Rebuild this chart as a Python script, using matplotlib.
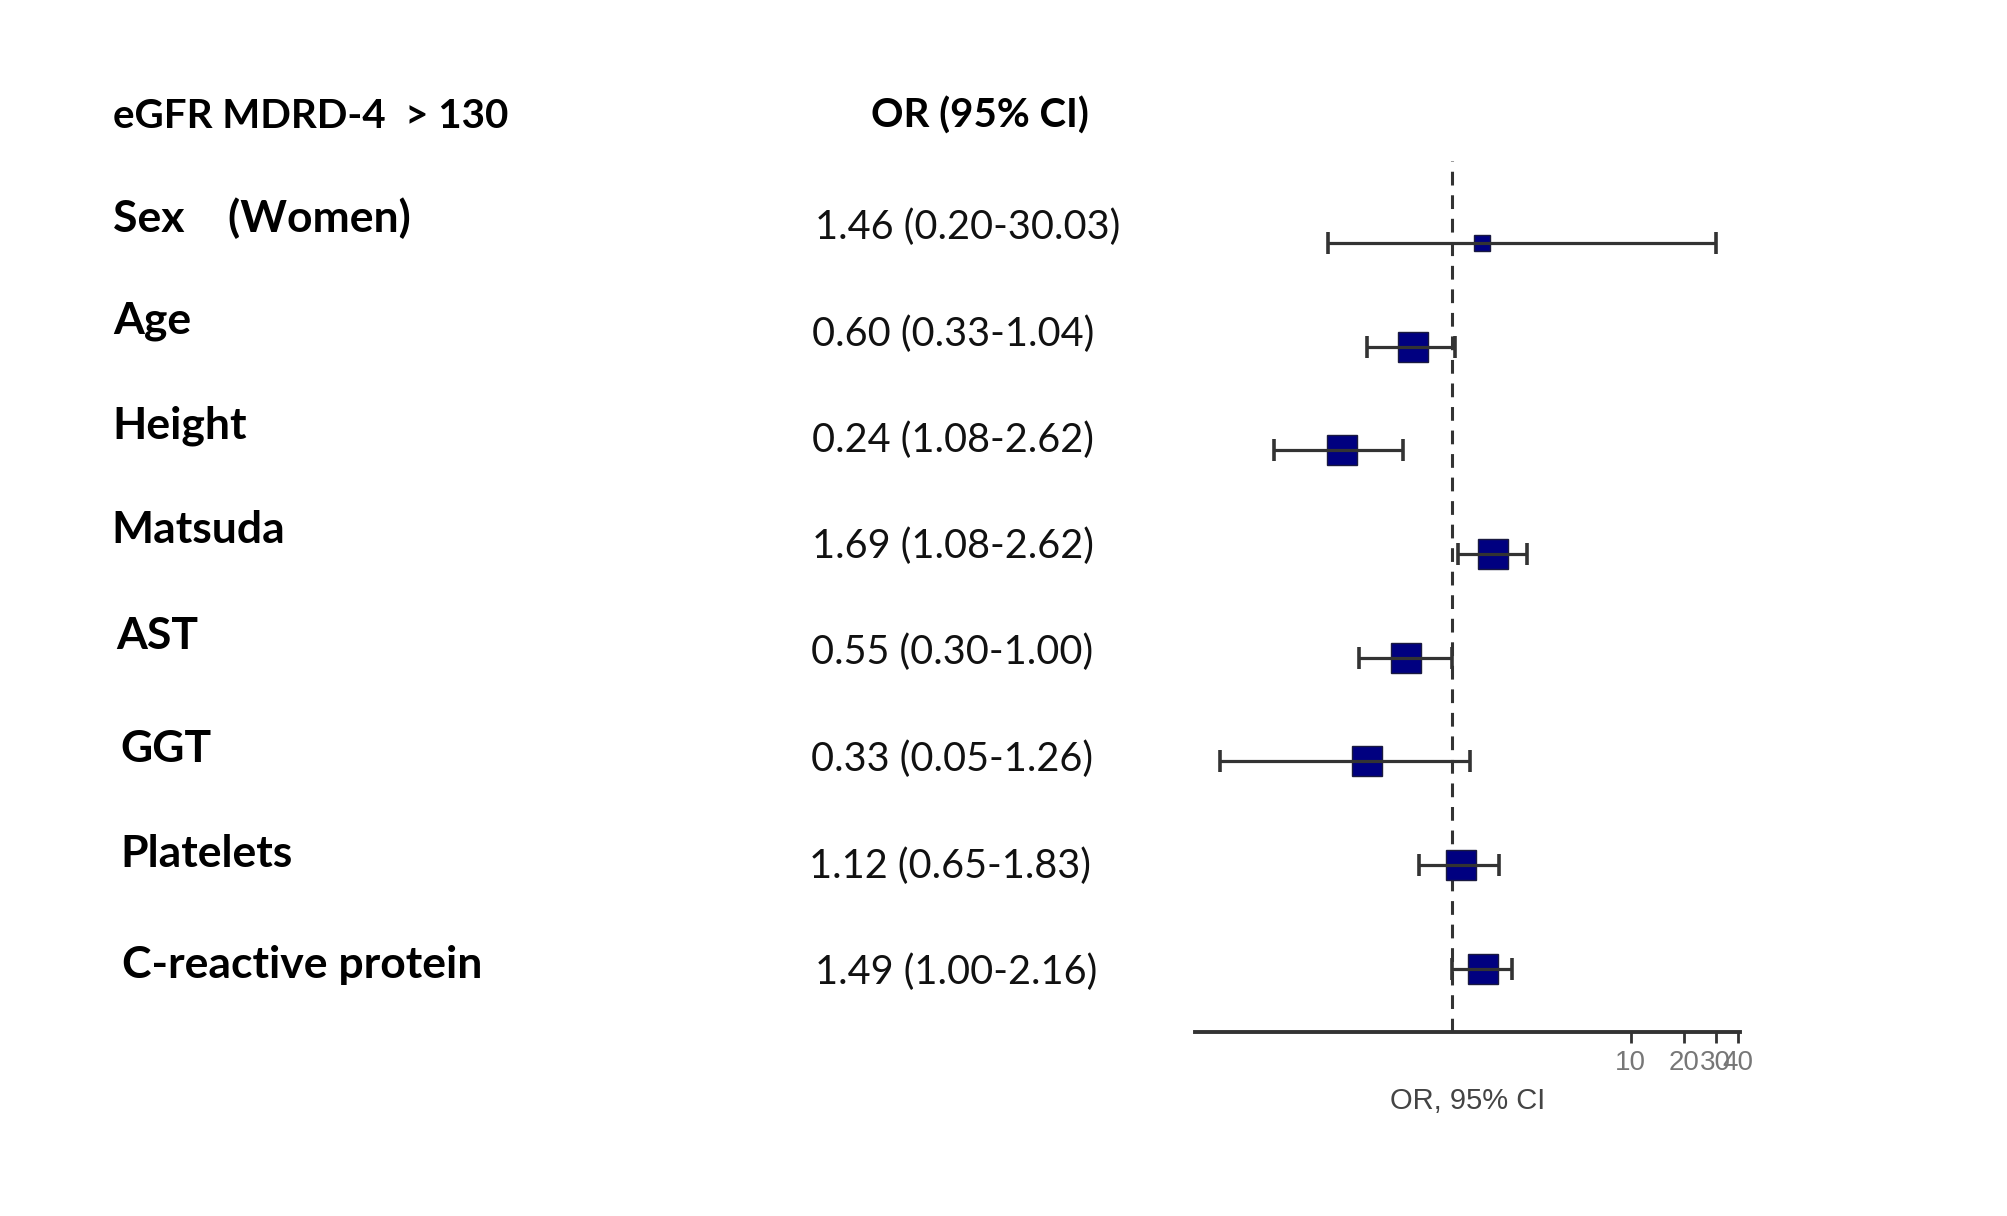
import numpy as np
import matplotlib.pyplot as plt

# forest plot: eGFR MDRD-4 > 130, odds ratios with 95% CI

header = "eGFR MDRD-4  > 130"
col_title = "OR (95% CI)"
labels = ["Sex    (Women)", "Age", "Height", "Matsuda", "AST", "GGT",
          "Platelets", "C-reactive protein"]
or_text = ["1.46 (0.20-30.03)", "0.60 (0.33-1.04)", "0.24 (1.08-2.62)",
           "1.69 (1.08-2.62)", "0.55 (0.30-1.00)", "0.33 (0.05-1.26)",
           "1.12 (0.65-1.83)", "1.49 (1.00-2.16)"]
# plotted values
or_val = [1.46, 0.60, 0.24, 1.69, 0.55, 0.33, 1.12, 1.49]
ci_lo = [0.20, 0.33, 0.10, 1.08, 0.30, 0.05, 0.65, 1.00]
ci_hi = [30.03, 1.04, 0.53, 2.62, 1.00, 1.26, 1.83, 2.16]
xticks = [10, 20, 30, 40]

W, H = 2008, 1216
fig = plt.figure(figsize=(W / 100, H / 100), dpi=100)
fnt = ["Lato", "DejaVu Sans"]

def fy(py):
    return 1 - py / H

ax = fig.add_axes([1195 / W, fy(1032), (1740 - 1195) / W, (1032 - 161) / H])
ax.set_xscale("log")
ax.set_xlim(0.036, 41)
ax.set_ylim(7.61, -0.79)

rows = np.arange(len(labels))
box_size = [11, 22, 22, 22, 22, 22, 22, 22]

ax.axvline(1, color="#333333", lw=2.2, ls=(0, (4.5, 3.2)), zorder=1)
for i in rows:
    ax.plot(or_val[i], i, marker="s", ms=box_size[i], mfc="#000080",
            mec="#1a1a40", mew=1, ls="none", zorder=2)
err = [np.array(or_val) - np.array(ci_lo), np.array(ci_hi) - np.array(or_val)]
ax.errorbar(or_val, rows, xerr=err, fmt="none", ecolor="#333333",
            elinewidth=2.3, capsize=8, capthick=2.6, zorder=3)

for s in ["left", "top", "right"]:
    ax.spines[s].set_visible(False)
ax.spines["bottom"].set_linewidth(2.8)
ax.spines["bottom"].set_color("#333333")
ax.set_yticks([])
ax.set_xticks(xticks)
ax.set_xticklabels([str(t) for t in xticks], family="Liberation Sans")
ax.minorticks_off()
ax.tick_params(axis="x", direction="out", length=8, width=2, color="#333333",
               labelcolor="#777777", labelsize=20, pad=5)
ax.set_xlabel("OR, 95% CI", family="Liberation Sans", fontsize=21,
              color="#444444", labelpad=8)

# left text columns
fig.text(113 / W, fy(116), header, family=fnt, weight="bold", fontsize=29,
         va="center", ha="left")
fig.text(980 / W, fy(116), col_title, family=fnt, weight="bold", fontsize=29,
         va="center", ha="center")

lab_x = [113, 113, 112, 111, 116, 120, 120, 122]
lab_y = [218, 321, 426, 530, 636, 749, 854, 965]
val_x = [815, 812, 812, 812, 811, 811, 809, 815]
val_y = [227, 334, 440, 546, 652, 759, 866, 972]
for i in rows:
    fig.text(lab_x[i] / W, fy(lab_y[i]), labels[i], family=fnt, weight="bold",
             fontsize=32, va="center", ha="left")
    fig.text(val_x[i] / W, fy(val_y[i]), or_text[i], family=fnt,
             fontsize=28.5, va="center", ha="left", color="#111111")

fig.savefig("out.png", dpi=100, facecolor="white")
